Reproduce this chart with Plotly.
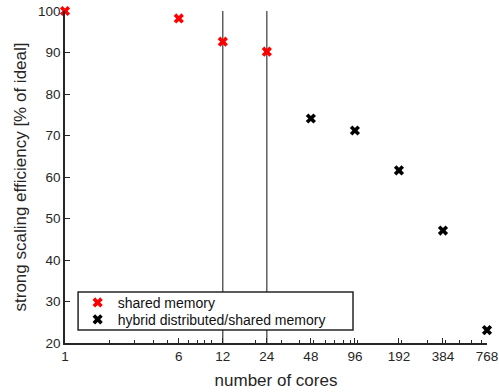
import plotly.graph_objects as go
import math

shared_cores = [1, 6, 12, 24]
shared_eff = [100, 98.2, 92.6, 90.2]
hybrid_cores = [48, 96, 192, 384, 768]
hybrid_eff = [74.1, 71.2, 61.6, 47.1, 23.1]
tick_vals = [1, 6, 12, 24, 48, 96, 192, 384, 768]
y_ticks = [20, 30, 40, 50, 60, 70, 80, 90, 100]
minor_vals = [2, 3, 4, 5, 7, 8, 9, 10, 20, 30, 40, 50, 60, 70, 80, 90, 100, 200, 300, 400, 500, 600, 700]
marker_lines_at = [12, 24]

font = "Liberation Sans, Arial, sans-serif"
axc = "#262626"

fig = go.Figure()
fig.add_trace(go.Scatter(x=shared_cores, y=shared_eff, mode="markers", name="shared memory",
                         marker=dict(symbol="x", size=9, color="#ff0000", line=dict(width=0)),
                         cliponaxis=False, legend="legend"))
fig.add_trace(go.Scatter(x=hybrid_cores, y=hybrid_eff, mode="markers", name="hybrid distributed/shared memory",
                         marker=dict(symbol="x", size=9, color="#000000", line=dict(width=0)),
                         cliponaxis=False, legend="legend2"))

for xv in marker_lines_at:
    fig.add_shape(type="line", x0=xv, x1=xv, xref="x", y0=0, y1=1, yref="paper",
                  line=dict(color="#111111", width=1), layer="below")

fig.add_shape(type="rect", xref="paper", yref="paper", x0=0.031, x1=0.6825, y0=0.039, y1=0.1536,
              line=dict(color=axc, width=1.5), fillcolor="white", layer="below")

leg_common = dict(x=0.03, xanchor="left", yanchor="middle", bgcolor="rgba(0,0,0,0)",
                  borderwidth=0, font=dict(size=14, color="#111111"), itemwidth=30)

fig.update_layout(
    width=499, height=392,
    margin=dict(l=65, r=12, t=11, b=49),
    paper_bgcolor="white", plot_bgcolor="white",
    font=dict(family=font, size=13, color=axc),
    showlegend=True,
    legend=dict(y=0.121, **leg_common),
    legend2=dict(y=0.070, **leg_common),
    xaxis=dict(type="log", range=[0, math.log10(768)], tickvals=tick_vals,
               ticktext=[str(v) for v in tick_vals], ticks="inside", ticklen=5, tickwidth=1,
               tickcolor=axc, showline=True, linecolor=axc, linewidth=1.5, showgrid=False,
               zeroline=False, mirror=False, automargin=False,
               minor=dict(tickvals=minor_vals, ticks="inside", ticklen=3, tickwidth=1, tickcolor=axc, showgrid=False),
               title=dict(text="number of cores", font=dict(size=17), standoff=11),
               tickfont=dict(size=13.5)),
    yaxis=dict(range=[20, 100], tickvals=y_ticks, ticks="inside", ticklen=5, tickwidth=1,
               tickcolor=axc, showline=True, linecolor=axc, linewidth=1.5, showgrid=False,
               zeroline=False, automargin=False,
               title=dict(text="strong scaling efficiency [% of ideal]", font=dict(size=17), standoff=7),
               tickfont=dict(size=13.5)),
)

fig.write_html("out.html")
